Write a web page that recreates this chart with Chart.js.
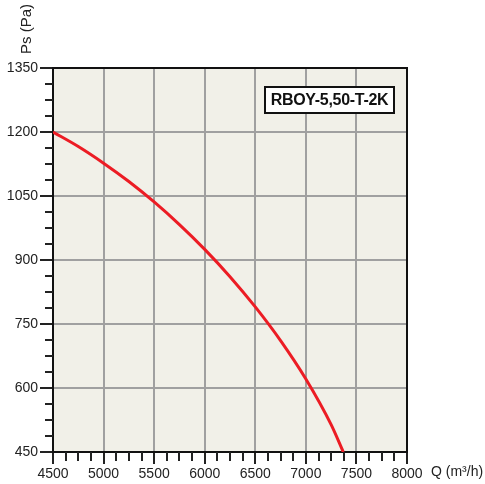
<!DOCTYPE html>
<html><head><meta charset="utf-8">
<script src="https://cdn.jsdelivr.net/npm/chart.js@4.4.1/dist/chart.umd.min.js"></script>
<style>html,body{margin:0;padding:0;background:#fff;} canvas{display:block;}</style>
</head><body>
<canvas id="c" width="485" height="484"></canvas>
<script>
const flowQ = [4500, 4750, 5000, 5250, 5500, 5750, 6000, 6250, 6500, 6750, 7000, 7250, 7370];
const pressurePs = [1200, 1166, 1127, 1084, 1036, 983, 925, 861, 790, 711, 621, 514, 450];
const xTicks = [4500, 5000, 5500, 6000, 6500, 7000, 7500, 8000];
const yTicks = [450, 600, 750, 900, 1050, 1200, 1350];
const modelLabel = 'RBOY-5,50-T-2K';
const xTitle = 'Q (m³/h)';
const yTitle = 'Ps (Pa)';

const FONT = '"Liberation Sans", Arial, sans-serif';
const plotBg = '#f1f0e8';
const gridCol = '#a0a0a0';

const decor = {
  id: 'decor',
  beforeDraw(chart) {
    const {ctx, chartArea: a} = chart;
    ctx.save();
    ctx.fillStyle = plotBg;
    ctx.fillRect(a.left, a.top, a.right - a.left, a.bottom - a.top);
    ctx.restore();
  },
  afterDraw(chart) {
    const {ctx, chartArea: a, scales} = chart;
    const xs = scales.x, ys = scales.y;
    ctx.save();
    ctx.strokeStyle = '#111';
    ctx.lineWidth = 2;
    ctx.beginPath();
    ctx.moveTo(a.left, a.top); ctx.lineTo(a.right, a.top); ctx.lineTo(a.right, a.bottom);
    ctx.stroke();
    ctx.lineWidth = 2;
    ctx.strokeStyle = '#222';
    for (let i = 0; i < xTicks.length - 1; i++) {
      const step = (xTicks[i + 1] - xTicks[i]) / 4;
      for (let k = 1; k < 4; k++) {
        const px = Math.round(xs.getPixelForValue(xTicks[i] + k * step));
        ctx.beginPath(); ctx.moveTo(px, a.bottom); ctx.lineTo(px, a.bottom + 9); ctx.stroke();
      }
    }
    for (let i = 0; i < yTicks.length - 1; i++) {
      const step = (yTicks[i + 1] - yTicks[i]) / 4;
      for (let k = 1; k < 4; k++) {
        const py = Math.round(ys.getPixelForValue(yTicks[i] + k * step));
        ctx.beginPath(); ctx.moveTo(a.left - 8, py); ctx.lineTo(a.left, py); ctx.stroke();
      }
    }
    ctx.fillStyle = '#222';
    ctx.font = '14px ' + FONT;
    ctx.textBaseline = 'middle';
    ctx.textAlign = 'left';
    ctx.fillText(xTitle, a.right + 24, 472);
    ctx.save();
    ctx.translate(27, 29);
    ctx.rotate(-Math.PI / 2);
    ctx.textAlign = 'center';
    ctx.font = '15px ' + FONT;
    ctx.fillText(yTitle, 0, 0);
    ctx.restore();
    const bx = 265, by = 87, bw = 129, bh = 26;
    ctx.fillStyle = '#ffffff';
    ctx.fillRect(bx, by, bw, bh);
    ctx.strokeStyle = '#111';
    ctx.lineWidth = 2;
    ctx.strokeRect(bx, by, bw, bh);
    ctx.fillStyle = '#111';
    ctx.font = 'bold 16px ' + FONT;
    ctx.letterSpacing = '-0.3px';
    ctx.textAlign = 'center';
    ctx.fillText(modelLabel, bx + bw / 2, by + bh / 2 + 1);
    ctx.restore();
  }
};

new Chart(document.getElementById('c'), {
  type: 'line',
  data: {
    datasets: [{
      data: flowQ.map((q, i) => ({x: q, y: pressurePs[i]})),
      borderColor: '#ec1c24',
      borderWidth: 3,
      pointRadius: 0,
      cubicInterpolationMode: 'monotone',
      fill: false
    }]
  },
  options: {
    responsive: false,
    animation: false,
    devicePixelRatio: 1,
    layout: {padding: {left: 0, right: 78, top: 68, bottom: 0}},
    plugins: {legend: {display: false}, tooltip: {enabled: false}},
    scales: {
      x: {
        type: 'linear', min: 4500, max: 8000,
        afterFit(s) { s.height = 32; },
        afterBuildTicks(s) { s.ticks = xTicks.map(v => ({value: v})); },
        ticks: {font: {family: FONT, size: 14}, color: '#222', padding: 2, maxRotation: 0, autoSkip: false,
                callback: v => String(v)},
        grid: {color: gridCol, lineWidth: 2, tickLength: 12, tickColor: '#222', tickWidth: 2},
        border: {color: '#111', width: 2}
      },
      y: {
        type: 'linear', min: 450, max: 1350,
        afterFit(s) { s.width = 53; },
        afterBuildTicks(s) { s.ticks = yTicks.map(v => ({value: v})); },
        ticks: {font: {family: FONT, size: 14}, color: '#222', padding: 2, autoSkip: false,
                callback: v => String(v)},
        grid: {color: gridCol, lineWidth: 2, tickLength: 13, tickColor: '#222', tickWidth: 2},
        border: {color: '#111', width: 2}
      }
    }
  },
  plugins: [decor]
});
</script>
</body></html>
